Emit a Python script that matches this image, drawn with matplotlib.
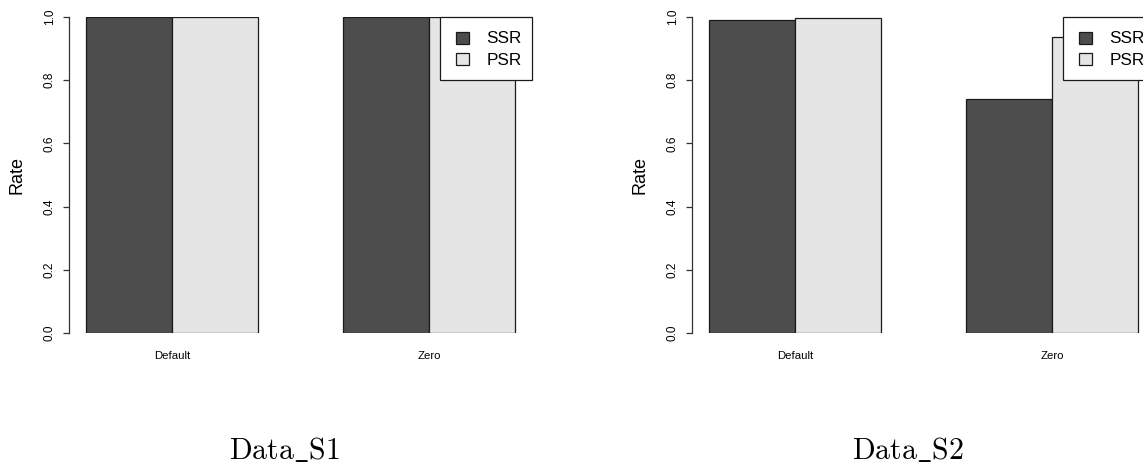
import matplotlib
matplotlib.use("Agg")
import matplotlib.pyplot as plt
from matplotlib.patches import Patch, Rectangle
from matplotlib.legend_handler import HandlerPatch
import numpy as np

plt.rcParams['font.family'] = ['Liberation Sans', 'DejaVu Sans']
plt.rcParams['mathtext.fontset'] = 'cm'

methods = ["Default", "Zero"]
series = ["SSR", "PSR"]
colors = ["#4d4d4d", "#e5e5e5"]

s1_ssr = [1.0, 1.0]
s1_psr = [1.0, 1.0]
s2_ssr = [0.99, 0.74]
s2_psr = [0.998, 0.938]

captions = [r"$\mathrm{Data\_S1}$", r"$\mathrm{Data\_S2}$"]

W, H = 1143, 463
fig = plt.figure(figsize=(W / 100, H / 100), dpi=100)


def px_axes(left, bottom_px, width, height):
    # pixel box (top-left origin) -> figure fraction
    return [left / W, (H - bottom_px) / H, width / W, height / H]


def square_key(legend, orig_handle, xdescent, ydescent, width, height, fontsize):
    # small square at the right of the handle box, like R's legend fill keys
    sw, sh = 9.4, 8.8
    return Rectangle((-xdescent + width - sw, -ydescent + (height - sh) / 2), sw, sh)


def draw_panel(ax, ssr, psr):
    centers = np.array([2.0, 5.0])
    for k, vals in enumerate([ssr, psr]):
        ax.bar(centers - 0.5 + k, vals, width=1.0, color=colors[k],
               edgecolor="#1a1a1a", linewidth=0.9, zorder=2)
    ax.set_xlim(0.8, 6.2)
    ax.set_ylim(0, 1)
    for side in ["top", "right", "bottom"]:
        ax.spines[side].set_visible(False)
    ax.spines["left"].set_color("#333333")
    ax.spines["left"].set_linewidth(0.9)
    ax.set_yticks(np.arange(0, 1.01, 0.2))
    ax.set_yticklabels(["%.1f" % v for v in np.arange(0, 1.01, 0.2)],
                       rotation=90, va="center", fontsize=8.5)
    ax.tick_params(axis="y", length=4.5, width=0.9, color="#333333", pad=5)
    ax.set_xticks(centers)
    ax.set_xticklabels(methods, fontsize=8.2)
    ax.tick_params(axis="x", length=0, pad=13)
    ax.set_ylabel("Rate", fontsize=13)
    ax.yaxis.set_label_coords(-0.095, 0.5)
    handles = [Patch(facecolor=colors[i], edgecolor="#1a1a1a", linewidth=0.9)
               for i in range(2)]
    leg = ax.legend(handles, series, loc="upper right",
                    bbox_to_anchor=(1.0, 1.0), borderaxespad=0,
                    fontsize=12.3, fancybox=False, framealpha=1,
                    edgecolor="#1a1a1a", handlelength=1.12, handleheight=1.5,
                    handletextpad=1.0, borderpad=0.6, labelspacing=0.05,
                    handler_map={Patch: HandlerPatch(patch_func=square_key)})
    leg.get_frame().set_linewidth(0.9)
    leg.set_zorder(5)


ax1 = fig.add_axes(px_axes(69, 333, 463, 316))
draw_panel(ax1, s1_ssr, s1_psr)
ax2 = fig.add_axes(px_axes(692, 333, 463, 316))
draw_panel(ax2, s2_ssr, s2_psr)

fig.text(284.5 / W, 4.5 / H, captions[0], fontsize=21.5, ha="center", va="baseline")
fig.text(907.5 / W, 4.5 / H, captions[1], fontsize=21.5, ha="center", va="baseline")

fig.savefig("out.png", dpi=100)
